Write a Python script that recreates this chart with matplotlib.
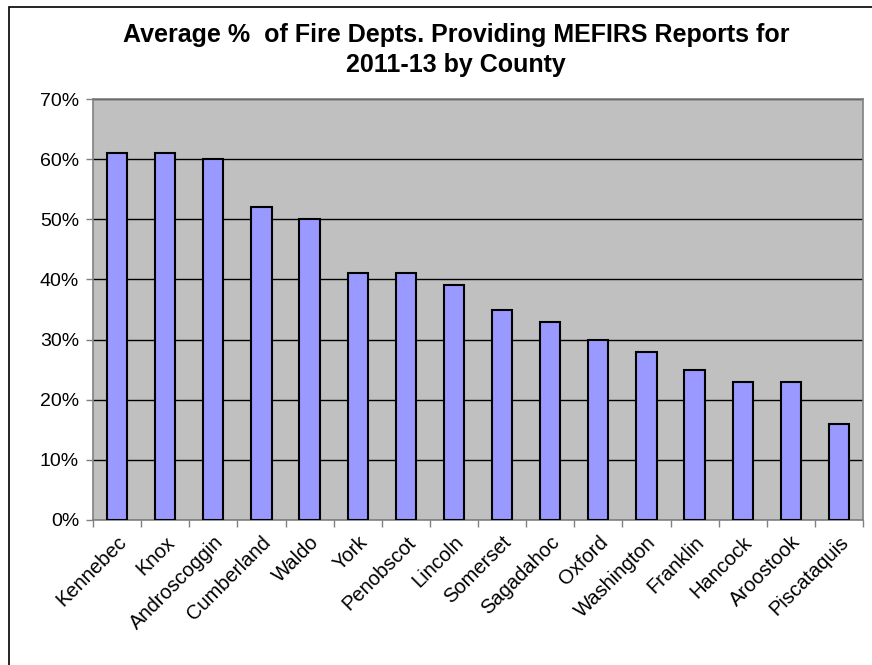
import numpy as np
import matplotlib
matplotlib.use("Agg")
import matplotlib.pyplot as plt
from matplotlib.patches import Rectangle
from matplotlib.ticker import FuncFormatter, FixedLocator

plt.rcParams['font.family'] = ['Liberation Sans', 'DejaVu Sans']

# average share of departments reporting, by county
counties = ['Kennebec', 'Knox', 'Androscoggin', 'Cumberland', 'Waldo', 'York',
            'Penobscot', 'Lincoln', 'Somerset', 'Sagadahoc', 'Oxford',
            'Washington', 'Franklin', 'Hancock', 'Aroostook', 'Piscataquis']
pct = [61, 61, 60, 52, 50, 41, 41, 39, 35, 33, 30, 28, 25, 23, 23, 16]

fig = plt.figure(figsize=(8.72, 6.65), dpi=100)
ax = fig.add_axes([93/872, 1 - 520/665, (863 - 93)/872, (520 - 99)/665])
ax.set_facecolor('#C0C0C0')

x = np.arange(len(counties))
ax.bar(x, pct, width=0.42, color='#9999FF', edgecolor='black', linewidth=1.5, zorder=3)

ax.set_xlim(-0.5, len(counties) - 0.5)
ax.set_ylim(0, 70)
ax.set_yticks(np.arange(0, 71, 10))
ax.yaxis.set_major_formatter(FuncFormatter(lambda v, p: '%d%%' % v))
ax.yaxis.grid(True, color='black', linewidth=1, zorder=1)
ax.set_axisbelow(True)

# category ticks sit between the bars, labels at bar centres
ax.xaxis.set_major_locator(FixedLocator(np.arange(-0.5, len(counties), 1)))
ax.xaxis.set_major_formatter(FuncFormatter(lambda v, p: ''))
ax.set_xticks(x, minor=True)
ax.set_xticklabels(counties, minor=True, rotation=45, ha='right',
                   rotation_mode='anchor', fontsize=14.5)
ax.tick_params(axis='x', which='minor', length=0, pad=9)
ax.tick_params(axis='x', which='major', length=5, width=1, color='#808080')
ax.tick_params(axis='y', length=5, width=1, color='#808080', labelsize=14, pad=5)

for side in ax.spines.values():
    side.set_color('#808080')
    side.set_linewidth(1.2)

fig.text(456/872, 1 - 50/665, 'Average %  of Fire Depts. Providing MEFIRS Reports for\n2011-13 by County',
         ha='center', va='center', fontsize=18, fontweight='bold', linespacing=1.35)

# chart border (only top and left edges fall inside the image)
fig.patches.append(Rectangle((9/872, -0.1), 1.2, (665 - 7)/665 + 0.1,
                             transform=fig.transFigure, fill=False,
                             edgecolor='black', linewidth=1.2))

fig.savefig('out.png', dpi=100)
